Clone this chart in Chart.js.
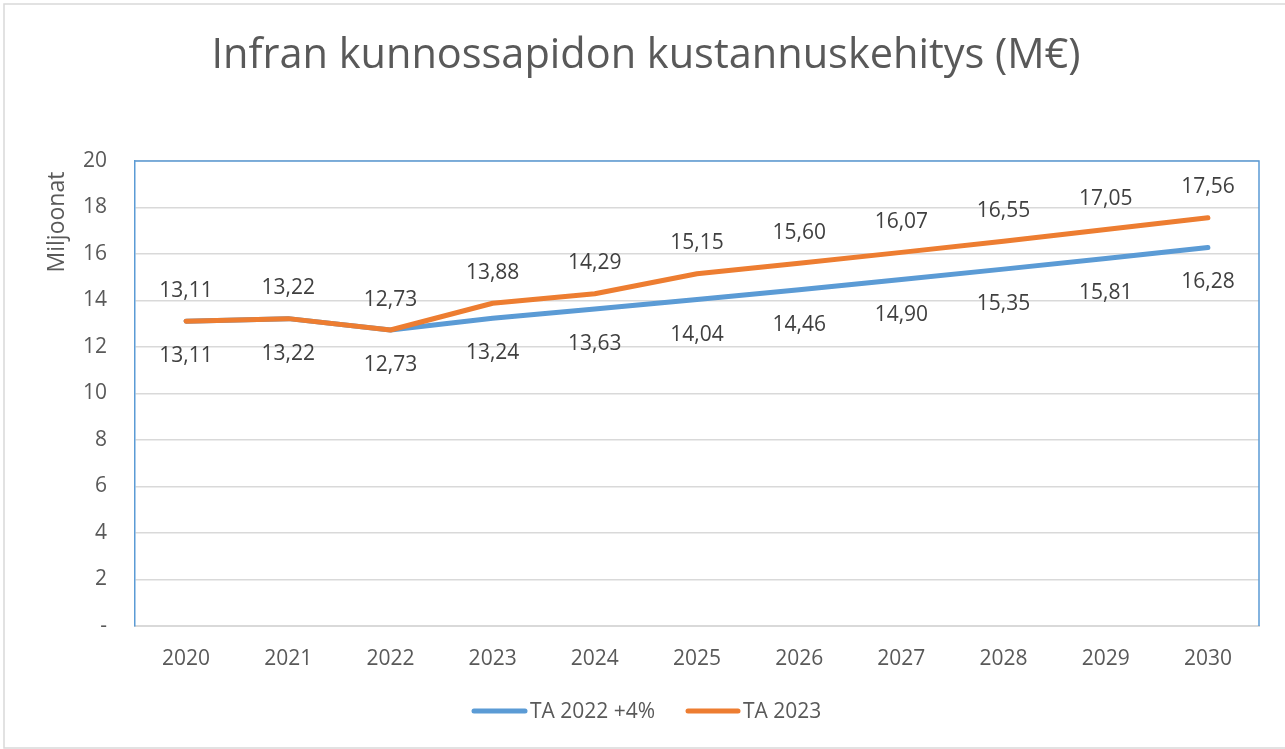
<!DOCTYPE html>
<html lang="fi">
<head>
<meta charset="utf-8">
<title>Infran kunnossapidon kustannuskehitys</title>
<script src="https://cdn.jsdelivr.net/npm/chart.js@4.4.1/dist/chart.umd.min.js"></script>
<style>
  html, body { margin: 0; padding: 0; background: #ffffff; }
  #wrap { width: 1285px; height: 749px; position: relative; }
  canvas { display: block; }
</style>
</head>
<body>
<div id="wrap"><canvas id="chart" width="1285" height="749"></canvas></div>
<script>
// Vuodet ja sarjat (M€)
const years = ['2020', '2021', '2022', '2023', '2024', '2025', '2026', '2027', '2028', '2029', '2030'];
const ta2022plus4 = [13.11, 13.22, 12.73, 13.24, 13.63, 14.04, 14.46, 14.90, 15.35, 15.81, 16.28];
const ta2023 = [13.11, 13.22, 12.73, 13.88, 14.29, 15.15, 15.60, 16.07, 16.55, 17.05, 17.56];
const seriesNames = ['TA 2022 +4%', 'TA 2023'];
const yTickValues = [0, 2, 4, 6, 8, 10, 12, 14, 16, 18, 20];

const chartTitle = 'Infran kunnossapidon kustannuskehitys (M€)';
const yAxisTitle = 'Miljoonat';

const BLUE = '#5B9BD5';
const ORANGE = '#ED7D31';
const TEXT = '#595959';
const LABEL = '#404040';
const GRID = '#D9D9D9';
const FONT = '"Open Sans", "Noto Sans", sans-serif';

const fmt = v => v.toFixed(2).replace('.', ',');

// Kehys, otsikko, akselin nimi, selite ja arvotunnisteet
const decorations = {
  id: 'decorations',
  beforeDraw(chart) {
    const ctx = chart.ctx;
    ctx.save();
    ctx.fillStyle = '#ffffff';
    ctx.fillRect(0, 0, chart.width, chart.height);
    ctx.strokeStyle = GRID;
    ctx.lineWidth = 1.5;
    ctx.strokeRect(4, 4, chart.width + 20, chart.height - 5);
    ctx.restore();
  },
  afterDatasetsDraw(chart) {
    const ctx = chart.ctx;
    const area = chart.chartArea;
    ctx.save();

    // Kuvaajan reunat (ylä ja oikea)
    ctx.strokeStyle = BLUE;
    ctx.lineWidth = 1.5;
    ctx.beginPath();
    ctx.moveTo(area.left, area.top);
    ctx.lineTo(area.right, area.top);
    ctx.lineTo(area.right, area.bottom);
    ctx.stroke();

    // Arvotunnisteet: TA 2023 yläpuolelle, TA 2022 +4% alapuolelle
    ctx.font = '21px ' + FONT;
    ctx.fillStyle = LABEL;
    ctx.textAlign = 'center';
    ctx.textBaseline = 'alphabetic';
    chart.data.datasets.forEach((ds, i) => {
      const meta = chart.getDatasetMeta(i);
      const above = ds.labelPos === 'above';
      meta.data.forEach((pt, j) => {
        const y = above ? pt.y - 24.5 : pt.y + 41;
        ctx.fillText(fmt(ds.data[j]), pt.x, y);
      });
    });

    // Otsikko
    ctx.fillStyle = TEXT;
    ctx.font = '41.5px ' + FONT;
    ctx.fillText(chartTitle, 646, 68);

    // Y-akselin nimi
    ctx.save();
    ctx.translate(64, 222);
    ctx.rotate(-Math.PI / 2);
    ctx.font = '23px ' + FONT;
    ctx.fillText(yAxisTitle, 0, 0);
    ctx.restore();

    // Selite
    const legendY = 711;
    const items = [
      { color: BLUE, x1: 474, x2: 525, tx: 530, text: seriesNames[0] },
      { color: ORANGE, x1: 688, x2: 738, tx: 743, text: seriesNames[1] }
    ];
    ctx.font = '21px ' + FONT;
    ctx.textAlign = 'left';
    ctx.textBaseline = 'middle';
    items.forEach(it => {
      ctx.strokeStyle = it.color;
      ctx.lineWidth = 5;
      ctx.lineCap = 'round';
      ctx.beginPath();
      ctx.moveTo(it.x1, legendY);
      ctx.lineTo(it.x2, legendY);
      ctx.stroke();
      ctx.fillStyle = TEXT;
      ctx.fillText(it.text, it.tx, legendY + 1);
    });

    ctx.restore();
  }
};

new Chart(document.getElementById('chart'), {
  type: 'line',
  data: {
    labels: years,
    datasets: [
      {
        label: seriesNames[0],
        data: ta2022plus4,
        borderColor: BLUE,
        backgroundColor: BLUE,
        borderWidth: 5,
        borderCapStyle: 'round',
        borderJoinStyle: 'round',
        pointRadius: 0,
        tension: 0,
        order: 1,
        labelPos: 'below'
      },
      {
        label: seriesNames[1],
        data: ta2023,
        borderColor: ORANGE,
        backgroundColor: ORANGE,
        borderWidth: 5,
        borderCapStyle: 'round',
        borderJoinStyle: 'round',
        pointRadius: 0,
        tension: 0,
        order: 0,
        labelPos: 'above'
      }
    ]
  },
  options: {
    responsive: false,
    animation: false,
    devicePixelRatio: 1,
    layout: { padding: { top: 161, right: 26, bottom: 63, left: 0 } },
    plugins: {
      legend: { display: false },
      title: { display: false },
      tooltip: { enabled: false }
    },
    scales: {
      x: {
        type: 'category',
        offset: true,
        grid: { display: false, drawTicks: false },
        border: { display: true, color: GRID, width: 2 },
        ticks: {
          color: TEXT,
          font: { family: FONT, size: 21 },
          padding: 20,
          maxRotation: 0
        },
        afterFit(scale) { scale.height = 60; }
      },
      y: {
        min: 0,
        max: 20,
        afterBuildTicks(scale) {
          scale.ticks = yTickValues.map(v => ({ value: v }));
        },
        grid: { color: GRID, lineWidth: 1.5, drawTicks: false },
        border: { display: true, color: BLUE, width: 1.5 },
        ticks: {
          color: TEXT,
          font: { family: FONT, size: 21 },
          padding: 28,
          callback: v => (v === 0 ? '-' : String(v))
        },
        afterFit(scale) { scale.width = 135; }
      }
    }
  },
  plugins: [decorations]
});
</script>
</body>
</html>
